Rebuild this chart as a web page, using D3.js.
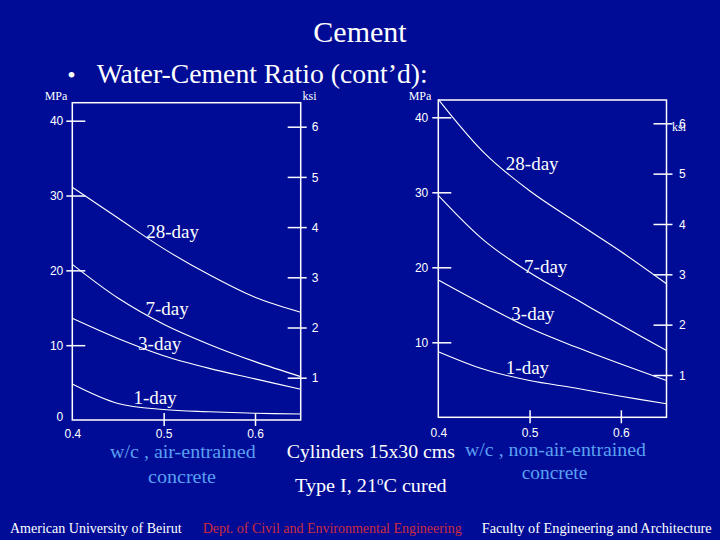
<!DOCTYPE html>
<html>
<head>
<meta charset="utf-8">
<script src="https://cdn.jsdelivr.net/npm/d3@7"></script>
<style>
  body { margin: 0; background: #000c96; }
  svg { display: block; }
  .serif { font-family: "Liberation Serif", "Times New Roman", serif; }
  .num { font-family: "Liberation Sans Narrow", "Arial Narrow", "Liberation Sans", sans-serif; font-size: 12px; fill: #fff; }
</style>
</head>
<body>
<svg id="slide" width="720" height="540"></svg>
<script>
// water-cement ratios where the curves were read
var wc = [0.40, 0.45, 0.50, 0.55, 0.60, 0.65];
var ages = ['28-day', '7-day', '3-day', '1-day'];

// compressive strength, MPa (air-entrained concrete)
var airEntrained = [
  [31.1, 27.0, 22.9, 19.4, 16.4, 14.4],
  [20.8, 16.3, 12.8, 10.1, 7.8, 5.8],
  [13.6, 10.9, 8.6, 6.9, 5.5, 4.1],
  [4.8, 2.2, 1.4, 1.1, 0.9, 0.8]
];
// compressive strength, MPa (non-air-entrained concrete)
var nonAirEntrained = [
  [42.4, 35.3, 30.2, 26.1, 22.1, 17.8],
  [29.6, 23.6, 19.3, 15.8, 12.3, 8.9],
  [18.3, 15.0, 11.9, 9.4, 7.1, 4.9],
  [8.75, 6.4, 4.9, 3.9, 2.8, 1.8]
];

// where the age labels sit, in [w/c, MPa]
var airLabels = [[0.481, 24.3], [0.480, 14.0], [0.472, 9.3], [0.467, 2.1]];
var nonAirLabels = [[0.474, 33.0], [0.494, 19.3], [0.480, 13.0], [0.474, 5.8]];

var mpaTicks = [0, 10, 20, 30, 40];
var ksiTicks = [1, 2, 3, 4, 5, 6];
var wcTicks = [0.4, 0.5, 0.6];

var svg = d3.select('#slide');
var white = '#fff', blue = '#5aa0f2', red = '#cc2b3e';

svg.append('rect').attr('width', 720).attr('height', 540).attr('fill', '#000c96');

// title
svg.append('text').attr('class', 'serif').attr('x', 360).attr('y', 42)
  .attr('text-anchor', 'middle').attr('font-size', 30).attr('fill', white).text('Cement');
svg.append('text').attr('class', 'serif').attr('x', 71.5).attr('y', 83)
  .attr('text-anchor', 'middle').attr('font-size', 24).attr('fill', white).text('\u2022');
svg.append('text').attr('class', 'serif').attr('x', 96.7).attr('y', 83)
  .attr('font-size', 28).attr('fill', white)
  .attr('textLength', 331).attr('lengthAdjust', 'spacingAndGlyphs')
  .text('Water-Cement Ratio (cont\u2019d):');

function panel(cfg) {
  var g = svg.append('g');
  var x = d3.scaleLinear().domain([0.4, 0.65]).range([cfg.left, cfg.right]);
  var y = d3.scaleLinear().domain([0, 40]).range([cfg.bottom, cfg.y40]);
  var k = d3.scaleLinear().domain([1, 6]).range([cfg.k1, cfg.k6]);

  // frame
  g.append('rect')
    .attr('x', cfg.left).attr('y', cfg.top)
    .attr('width', cfg.right - cfg.left).attr('height', cfg.bottom - cfg.top)
    .attr('fill', 'none').attr('stroke', white).attr('stroke-width', 1.5);

  // MPa axis
  var ya = g.append('g').attr('transform', 'translate(' + cfg.left + ',0)')
    .call(d3.axisLeft(y).tickValues(cfg.zeroLabel ? mpaTicks : mpaTicks.slice(1)).tickFormat(d3.format('d')));
  ya.select('.domain').remove();
  ya.selectAll('.tick line').attr('x1', -6).attr('x2', 13).attr('stroke', white).attr('stroke-width', 1.5)
    .filter(function(d) { return d === 0; }).remove();
  ya.selectAll('.tick text').attr('class', 'num').attr('x', cfg.mpaLabelX).attr('dy', '0.35em')
    .filter(function(d) { return d === 0; }).attr('dy', '0.05em');

  // ksi axis
  var ka = g.append('g').attr('transform', 'translate(' + cfg.right + ',0)')
    .call(d3.axisRight(k).tickValues(ksiTicks).tickFormat(d3.format('d')));
  ka.select('.domain').remove();
  ka.selectAll('.tick line').attr('x1', -13).attr('x2', 6).attr('stroke', white).attr('stroke-width', 1.5);
  ka.selectAll('.tick text').attr('class', 'num').attr('x', cfg.ksiLabelX).attr('dy', '0.35em');

  // w/c axis
  var xa = g.append('g').attr('transform', 'translate(0,' + cfg.bottom + ')')
    .call(d3.axisBottom(x).tickValues(wcTicks).tickFormat(d3.format('.1f')));
  xa.select('.domain').remove();
  xa.selectAll('.tick line').attr('y1', -7).attr('y2', 6).attr('stroke', white).attr('stroke-width', 1.5)
    .filter(function(d) { return d === 0.4; }).remove();
  xa.selectAll('.tick text').attr('class', 'num').attr('y', cfg.wcLabelY).attr('dy', 0);

  // unit labels
  g.append('text').attr('class', 'serif').attr('x', cfg.mpaUnitX).attr('y', 100)
    .attr('text-anchor', 'middle').attr('font-size', 12).attr('fill', white).text('MPa');
  g.append('text').attr('class', 'serif').attr('x', cfg.ksiUnitX).attr('y', cfg.ksiUnitY)
    .attr('font-size', 12).attr('fill', white).text('ksi');

  // curves
  var line = d3.line()
    .x(function(d, i) { return x(wc[i]); })
    .y(function(d) { return y(d); })
    .curve(d3.curveCatmullRom.alpha(0.5));
  g.selectAll('path.curve').data(cfg.series).enter().append('path')
    .attr('class', 'curve').attr('d', line)
    .attr('fill', 'none').attr('stroke', white).attr('stroke-width', 1.1);

  g.selectAll('text.age').data(ages).enter().append('text')
    .attr('class', 'serif age')
    .attr('x', function(d, i) { return x(cfg.labels[i][0]); })
    .attr('y', function(d, i) { return y(cfg.labels[i][1]); })
    .attr('font-size', 19).attr('fill', white).text(function(d) { return d; });
}

panel({
  left: 72.3, right: 300.7, top: 102.7, bottom: 420, y40: 120.7,
  k1: 377.7, k6: 126.7, zeroLabel: true,
  mpaLabelX: -9, ksiLabelX: 11, wcLabelY: 18,
  mpaUnitX: 56, ksiUnitX: 302.5, ksiUnitY: 100,
  series: airEntrained, labels: airLabels
});

panel({
  left: 438.3, right: 666.5, top: 100, bottom: 417.3, y40: 117.3,
  k1: 375, k6: 123.3, zeroLabel: false,
  mpaLabelX: -10, ksiLabelX: 12.5, wcLabelY: 20,
  mpaUnitX: 420, ksiUnitX: 672, ksiUnitY: 130.5,
  series: nonAirEntrained, labels: nonAirLabels
});

// captions
function caption(str, x0, x1, yb, color, size) {
  return svg.append('text').attr('class', 'serif').attr('x', x0).attr('y', yb)
    .attr('font-size', size).attr('fill', color)
    .attr('textLength', x1 - x0).attr('lengthAdjust', 'spacingAndGlyphs').text(str);
}
caption('w/c , air-entrained', 110, 255.7, 458, blue, 19);
caption('concrete', 148, 216, 483, blue, 19);
caption('Cylinders 15x30 cms', 286.7, 455, 458, white, 19);
caption('w/c , non-air-entrained', 465, 646, 456, blue, 19);
caption('concrete', 521.7, 587.3, 479.3, blue, 19);

var t = svg.append('text').attr('class', 'serif').attr('x', 295).attr('y', 491.7)
  .attr('font-size', 19).attr('fill', white)
  .attr('textLength', 151.7).attr('lengthAdjust', 'spacingAndGlyphs');
t.append('tspan').text('Type I, 21');
t.append('tspan').attr('font-size', 12).attr('dy', -7).text('o');
t.append('tspan').attr('dy', 7).text('C cured');

// footer
caption('American University of Beirut', 10, 181.7, 533, white, 14);
caption('Dept. of Civil and Environmental Engineering', 202.7, 461.7, 533, red, 14);
caption('Faculty of Engineering and Architecture', 481.7, 711.7, 533, white, 14);
</script>
</body>
</html>
